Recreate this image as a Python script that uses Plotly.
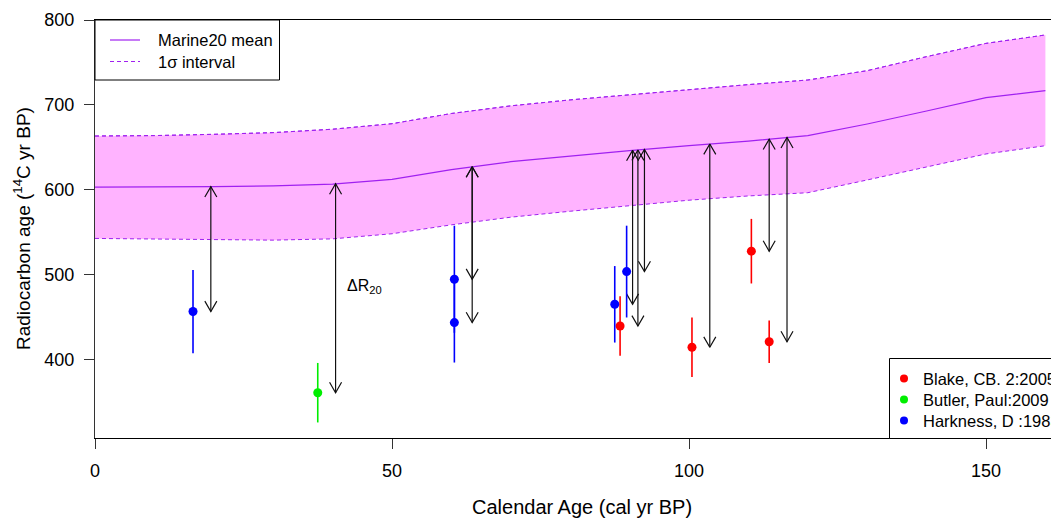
import numpy as np
import plotly.graph_objects as go

# ---------------- data ----------------
cal_grid = [0, 10, 20, 30, 40, 50, 60, 70, 80, 90, 100, 110, 120, 130, 140, 150, 160]
marine_mean = [603.3, 603.5, 604.0, 604.8, 607.0, 612.6, 624.0, 633.3, 640.0, 646.3,
               652.2, 657.6, 663.9, 677.6, 692.9, 708.6, 716.9]
marine_upper = [663.5, 664.0, 665.5, 667.5, 671.5, 678.0, 690.0, 699.0, 706.0, 712.0,
                718.5, 724.0, 729.4, 740.4, 756.9, 772.5, 782.4]
marine_lower = [543.0, 542.5, 542.0, 541.0, 542.5, 548.5, 559.0, 568.0, 575.0, 581.5,
                588.0, 593.0, 596.8, 611.8, 627.0, 642.4, 652.1]

blake_cal = [88.4, 100.5, 110.5, 113.5]
blake_c14 = [440.0, 415.0, 528.0, 421.5]
blake_err = [35, 35, 38, 25]

butler_cal = [37.5]
butler_c14 = [361.5]
butler_err = [35]

harkness_cal = [16.5, 60.5, 60.5, 87.5, 89.5]
harkness_c14 = [457.0, 495.0, 444.0, 465.5, 504.0]
harkness_err = [49, 63, 47, 45, 54]

arrow_offset = 3.0  # calendar-year shift of the Delta R arrows

x_ticks = [0, 50, 100, 150]
y_ticks = [400, 500, 600, 700, 800]

# ---------------- layout geometry ----------------
# the page body has an 8px margin, so the figure is shifted by 8px
BODY = 8
W, H = 1059 - BODY, 518 - BODY
PL, PT = 95, 20            # plot-area top-left in page pixels
PW, PH = 964, 418          # plot-area size in pixels
ML, MT = PL - BODY, PT - BODY
MR = W - ML - PW
MB = H - MT - PH
x_range = [0, 162.29]
y_range = [308.2, 800]
px_per_x = PW / (x_range[1] - x_range[0])
px_per_y = PH / (y_range[1] - y_range[0])

FONT = "Liberation Sans, Arial, Helvetica, sans-serif"
PURPLE = "#A020F0"
BAND = "#FFB3FF"
DASH = "4px,3px"


def px(xp):
    return (xp - PL) / PW


def py(yp):
    return 1 - (yp - PT) / PH


fig = go.Figure()

# band
fig.add_trace(go.Scatter(x=cal_grid, y=marine_upper, mode="lines",
                         line=dict(color=PURPLE, width=1, dash=DASH),
                         showlegend=False, hoverinfo="skip"))
fig.add_trace(go.Scatter(x=cal_grid, y=marine_lower, mode="lines",
                         line=dict(color=PURPLE, width=1, dash=DASH),
                         fill="tonexty", fillcolor=BAND,
                         showlegend=False, hoverinfo="skip"))
fig.add_trace(go.Scatter(x=cal_grid, y=marine_upper, mode="lines",
                         line=dict(color=PURPLE, width=1, dash=DASH),
                         showlegend=False, hoverinfo="skip"))
fig.add_trace(go.Scatter(x=cal_grid, y=marine_mean, mode="lines",
                         line=dict(color=PURPLE, width=1.2),
                         showlegend=False, hoverinfo="skip"))

# Delta R arrows (double-headed, open V heads)
head_len = 12.0
hx = head_len * 0.5 / px_per_x
hy = head_len * np.cos(np.radians(30)) / px_per_y
ax_x, ax_y = [], []
all_cal = harkness_cal + butler_cal + blake_cal
all_c14 = harkness_c14 + butler_c14 + blake_c14
for c, v in zip(all_cal, all_c14):
    xa = c + arrow_offset
    top = float(np.interp(xa, cal_grid, marine_mean))
    bot = v
    ax_x += [xa, xa, None]
    ax_y += [bot, top, None]
    ax_x += [xa - hx, xa, xa + hx, None]
    ax_y += [top - hy, top, top - hy, None]
    ax_x += [xa - hx, xa, xa + hx, None]
    ax_y += [bot + hy, bot, bot + hy, None]
fig.add_trace(go.Scatter(x=ax_x, y=ax_y, mode="lines",
                         line=dict(color="#111111", width=1.2),
                         showlegend=False, hoverinfo="skip"))

# data points with error bars
for cal, c14, err, col in [(blake_cal, blake_c14, blake_err, "#FF0000"),
                           (butler_cal, butler_c14, butler_err, "#00EE00"),
                           (harkness_cal, harkness_c14, harkness_err, "#0000FF")]:
    fig.add_trace(go.Scatter(x=cal, y=c14, mode="markers",
                             marker=dict(color=col, size=9),
                             error_y=dict(type="data", array=err, visible=True,
                                          color=col, thickness=1.6, width=0),
                             showlegend=False))

shapes = []
annotations = []

# legend 1 (top-left)
shapes.append(dict(type="rect", xref="paper", yref="paper",
                   x0=px(95), x1=px(279.5), y0=py(80), y1=py(20),
                   line=dict(color="black", width=1), fillcolor="white", layer="above"))
shapes.append(dict(type="line", xref="paper", yref="paper",
                   x0=px(110), x1=px(140), y0=py(40), y1=py(40),
                   line=dict(color=PURPLE, width=1.2), layer="above"))
shapes.append(dict(type="line", xref="paper", yref="paper",
                   x0=px(110), x1=px(140), y0=py(61.5), y1=py(61.5),
                   line=dict(color=PURPLE, width=1.2, dash=DASH), layer="above"))
for txt, yp in [("Marine20 mean", 40), ("1σ interval", 61.5)]:
    annotations.append(dict(text=txt, xref="paper", yref="paper", x=px(156), y=py(yp),
                            xanchor="left", yanchor="middle", showarrow=False,
                            font=dict(size=16.5, color="black", family=FONT)))

# legend 2 (bottom-right)
shapes.append(dict(type="rect", xref="paper", yref="paper",
                   x0=px(889.5), x1=px(1080), y0=py(438.5), y1=py(358.5),
                   line=dict(color="black", width=1), fillcolor="white", layer="above"))
for txt, col, yp in [("Blake, CB. 2:2005", "#FF0000", 378.5),
                     ("Butler, Paul:2009", "#00EE00", 399.5),
                     ("Harkness, D :1983", "#0000FF", 420.5)]:
    shapes.append(dict(type="circle", xref="paper", yref="paper",
                       x0=px(900), x1=px(908), y0=py(yp + 4), y1=py(yp - 4),
                       line=dict(color=col, width=0), fillcolor=col, layer="above"))
    annotations.append(dict(text=txt, xref="paper", yref="paper", x=px(920.5), y=py(yp),
                            xanchor="left", yanchor="middle", showarrow=False,
                            font=dict(size=16.5, color="black", family=FONT)))

# Delta R label
annotations.append(dict(text="ΔR<sub>20</sub>", xref="x", yref="y", x=42.1, y=486,
                        xanchor="left", yanchor="middle", showarrow=False,
                        font=dict(size=16, color="black", family=FONT)))

# axis titles
annotations.append(dict(text="Calendar Age (cal yr BP)", xref="paper", yref="paper",
                        x=px(581.5), y=py(507), xanchor="center", yanchor="middle",
                        showarrow=False, font=dict(size=20, color="black", family=FONT)))
annotations.append(dict(text="Radiocarbon age (<sup>14</sup>C yr BP)", xref="paper", yref="paper",
                        x=px(22), y=py(229), xanchor="center", yanchor="middle",
                        textangle=-90, showarrow=False,
                        font=dict(size=19, color="black", family=FONT)))

fig.update_layout(
    width=W, height=H,
    margin=dict(l=ML, r=MR, t=MT, b=MB, pad=0),
    paper_bgcolor="white", plot_bgcolor="white",
    font=dict(family=FONT, color="black"),
    showlegend=False,
    shapes=shapes, annotations=annotations,
    xaxis=dict(range=x_range, tickvals=x_ticks, ticktext=[str(v) for v in x_ticks],
               ticks="outside", ticklen=10, tickcolor="#333", tickwidth=1,
               showline=True, linecolor="black", linewidth=1, mirror=True,
               showgrid=False, zeroline=False, tickfont=dict(size=18, color="black"),
               ticklabelstandoff=6),
    yaxis=dict(range=y_range, tickvals=y_ticks, ticktext=[str(v) for v in y_ticks],
               ticks="outside", ticklen=10, tickcolor="#333", tickwidth=1,
               showline=True, linecolor="#333", linewidth=1, mirror=False,
               showgrid=False, zeroline=False, tickfont=dict(size=18, color="black"),
               ticklabelstandoff=6),
)

fig.write_html("out.html")
